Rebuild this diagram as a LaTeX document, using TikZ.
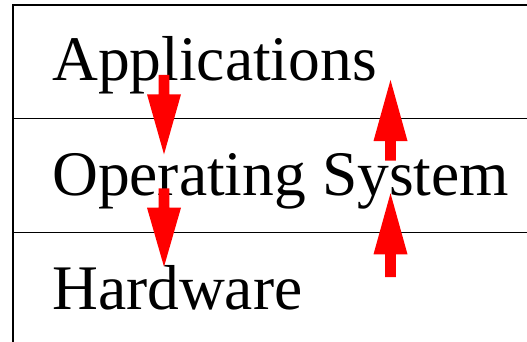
\documentclass[tikz,border=0pt]{standalone}
\usepackage{fontspec}
\setmainfont{Liberation Serif}
\begin{document}
\begin{tikzpicture}[x=1pt,y=-1pt,
  rule/.style={line width=1.6pt,black},
  label/.style={anchor=base west,inner sep=0pt,font=\fontsize{63.5}{64}\selectfont},
  redarrow/.style={fill=red}]
\useasboundingbox (0,0) rectangle (527,342);
% frame lines
\coordinate (tl) at (12.8,5);
\coordinate (tr) at (527,5);
\coordinate (bl) at (12.8,342);
\coordinate (m1l) at (12.8,118.7);
\coordinate (m1r) at (527,118.7);
\coordinate (m2l) at (12.8,232.6);
\coordinate (m2r) at (527,232.6);
\draw[rule] (tr) -- (tl) -- (bl);
\draw[rule] (m1l) -- (m1r);
\draw[rule] (m2l) -- (m2r);
% labels
\node[label] (app) at (52,80.7) {Applications};
\node[label] (os) at (52,195) {Operating System};
\node[label] (hw) at (52,309) {Hardware};
% down arrows
\fill[redarrow] (158.65,75) -- (169.35,75) -- (169.35,94.3) -- (181,94.3) -- (164,154.3) -- (147,94.3) -- (158.65,94.3) -- cycle;
\fill[redarrow] (158.65,188.3) -- (169.35,188.3) -- (169.35,207.7) -- (181,207.7) -- (164,266.7) -- (147,207.7) -- (158.65,207.7) -- cycle;
% up arrows
\fill[redarrow] (385.15,160.7) -- (395.85,160.7) -- (395.85,141) -- (407.5,141) -- (390.5,80) -- (373.5,141) -- (385.15,141) -- cycle;
\fill[redarrow] (385.15,277) -- (395.85,277) -- (395.85,254.3) -- (407.5,254.3) -- (390.5,193.3) -- (373.5,254.3) -- (385.15,254.3) -- cycle;
\end{tikzpicture}
\end{document}
